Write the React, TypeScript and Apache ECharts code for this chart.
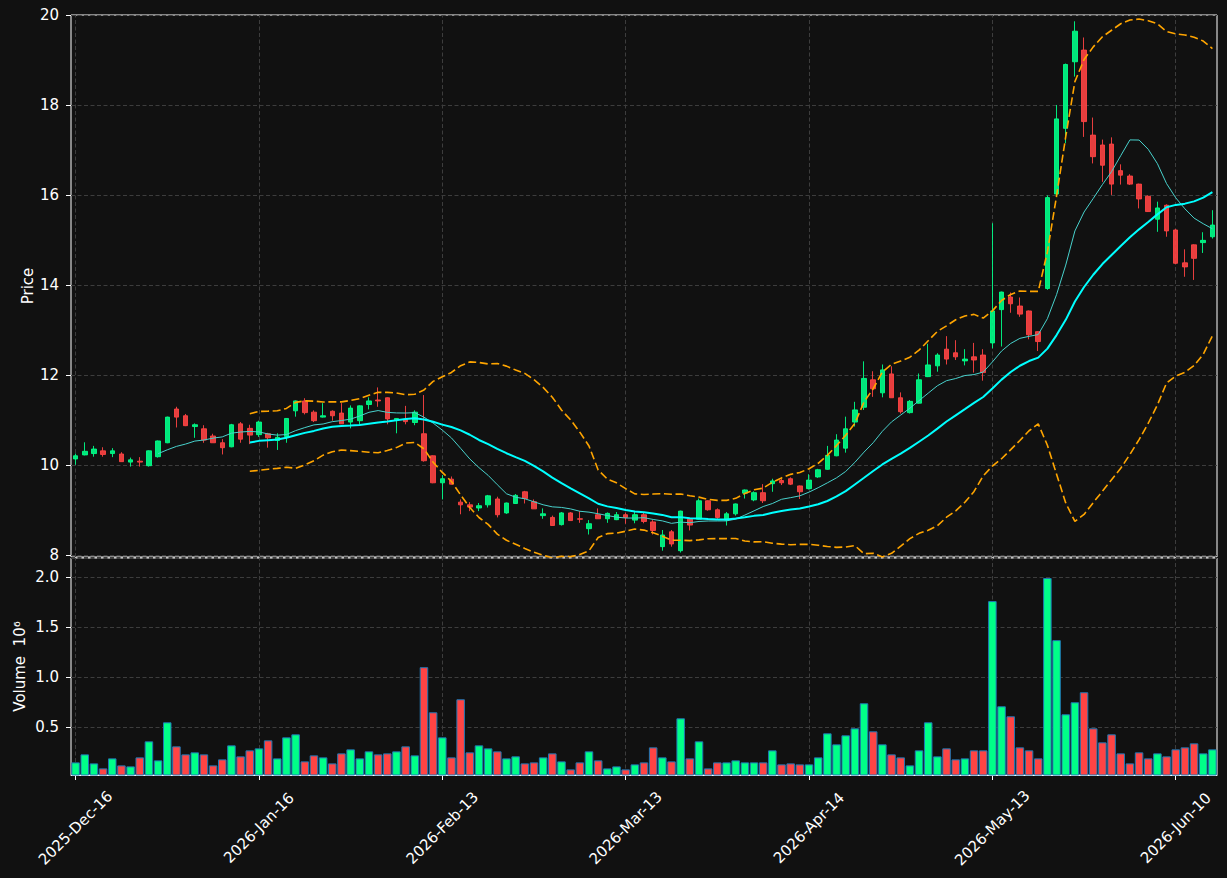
import React, { useEffect, useRef } from "react";
import * as echarts from "echarts";

const dates = [
  "2025-Dec-16", "2025-Dec-17", "2025-Dec-18", "2025-Dec-19", "2025-Dec-22", "2025-Dec-23", "2025-Dec-24", "2025-Dec-29", "2025-Dec-30", "2025-Dec-31",
  "2026-Jan-02", "2026-Jan-05", "2026-Jan-06", "2026-Jan-07", "2026-Jan-08", "2026-Jan-09", "2026-Jan-12", "2026-Jan-13", "2026-Jan-14", "2026-Jan-15",
  "2026-Jan-16", "2026-Jan-19", "2026-Jan-20", "2026-Jan-21", "2026-Jan-22", "2026-Jan-23", "2026-Jan-26", "2026-Jan-27", "2026-Jan-28", "2026-Jan-29",
  "2026-Jan-30", "2026-Feb-02", "2026-Feb-03", "2026-Feb-04", "2026-Feb-05", "2026-Feb-06", "2026-Feb-09", "2026-Feb-10", "2026-Feb-11", "2026-Feb-12",
  "2026-Feb-13", "2026-Feb-16", "2026-Feb-17", "2026-Feb-18", "2026-Feb-19", "2026-Feb-20", "2026-Feb-23", "2026-Feb-24", "2026-Feb-25", "2026-Feb-26",
  "2026-Feb-27", "2026-Mar-02", "2026-Mar-03", "2026-Mar-04", "2026-Mar-05", "2026-Mar-06", "2026-Mar-09", "2026-Mar-10", "2026-Mar-11", "2026-Mar-12",
  "2026-Mar-13", "2026-Mar-16", "2026-Mar-17", "2026-Mar-18", "2026-Mar-19", "2026-Mar-20", "2026-Mar-23", "2026-Mar-24", "2026-Mar-25", "2026-Mar-26",
  "2026-Mar-27", "2026-Mar-30", "2026-Mar-31", "2026-Apr-01", "2026-Apr-02", "2026-Apr-07", "2026-Apr-08", "2026-Apr-09", "2026-Apr-10", "2026-Apr-13",
  "2026-Apr-14", "2026-Apr-15", "2026-Apr-16", "2026-Apr-17", "2026-Apr-20", "2026-Apr-21", "2026-Apr-22", "2026-Apr-23", "2026-Apr-24", "2026-Apr-27",
  "2026-Apr-28", "2026-Apr-29", "2026-Apr-30", "2026-May-04", "2026-May-05", "2026-May-06", "2026-May-07", "2026-May-08", "2026-May-11", "2026-May-12",
  "2026-May-13", "2026-May-14", "2026-May-15", "2026-May-18", "2026-May-19", "2026-May-20", "2026-May-21", "2026-May-22", "2026-May-25", "2026-May-26",
  "2026-May-27", "2026-May-28", "2026-May-29", "2026-Jun-01", "2026-Jun-02", "2026-Jun-03", "2026-Jun-04", "2026-Jun-05", "2026-Jun-08", "2026-Jun-09",
  "2026-Jun-10", "2026-Jun-11", "2026-Jun-12", "2026-Jun-15", "2026-Jun-16",
];

const opens = [
  10.14, 10.23, 10.26, 10.32, 10.26, 10.25, 10.07, 10.09, 9.99, 10.19,
  10.50, 11.25, 11.10, 10.86, 10.81, 10.65, 10.50, 10.41, 10.92, 10.82,
  10.68, 10.70, 10.55, 10.64, 11.21, 11.43, 11.18, 11.07, 11.20, 11.16,
  10.96, 10.99, 11.35, 11.45, 11.50, 11.01, 11.02, 10.95, 10.70, 10.21,
  9.61, 9.69, 9.18, 9.12, 9.05, 9.12, 9.25, 8.94, 9.15, 9.41,
  9.19, 8.88, 8.84, 8.68, 8.94, 8.81, 8.59, 8.90, 8.81, 8.79,
  8.90, 8.78, 8.90, 8.74, 8.19, 8.52, 8.10, 8.80, 8.80, 9.21,
  9.01, 8.78, 8.92, 9.38, 9.23, 9.39, 9.59, 9.66, 9.70, 9.54,
  9.48, 9.74, 9.91, 10.21, 10.38, 10.96, 11.29, 11.90, 11.61, 12.03,
  11.50, 11.17, 11.38, 11.97, 12.21, 12.58, 12.50, 12.32, 12.41, 12.45,
  12.72, 13.46, 13.74, 13.54, 13.43, 12.97, 13.93, 16.03, 17.49, 18.97,
  19.23, 17.34, 17.12, 17.14, 16.55, 16.43, 16.25, 15.98, 15.47, 15.78,
  15.23, 14.50, 14.90, 14.95, 15.08,
];

const closes = [
  10.21, 10.31, 10.36, 10.24, 10.32, 10.08, 10.12, 10.07, 10.32, 10.54,
  11.07, 11.07, 10.88, 10.90, 10.56, 10.50, 10.39, 10.90, 10.58, 10.67,
  10.96, 10.61, 10.62, 11.04, 11.43, 11.17, 10.99, 11.10, 11.10, 10.92,
  11.27, 11.32, 11.43, 11.43, 11.03, 11.04, 10.97, 11.18, 10.10, 9.61,
  9.70, 9.58, 9.12, 9.07, 9.10, 9.32, 8.90, 9.16, 9.33, 9.26,
  9.03, 8.92, 8.66, 8.94, 8.77, 8.80, 8.70, 8.81, 8.93, 8.90,
  8.84, 8.90, 8.75, 8.55, 8.45, 8.25, 8.98, 8.67, 9.21, 9.01,
  8.84, 8.92, 9.14, 9.45, 9.39, 9.21, 9.65, 9.61, 9.58, 9.41,
  9.67, 9.90, 10.22, 10.56, 10.81, 11.23, 11.93, 11.70, 12.12, 11.50,
  11.19, 11.42, 11.90, 12.23, 12.45, 12.36, 12.41, 12.36, 12.34, 12.06,
  13.43, 13.85, 13.59, 13.36, 12.90, 12.75, 15.95, 17.70, 18.91, 19.65,
  17.64, 16.86, 16.67, 16.25, 16.45, 16.25, 15.92, 15.64, 15.72, 15.21,
  14.49, 14.41, 14.60, 15.00, 15.34,
];

const highs = [
  10.26, 10.51, 10.43, 10.40, 10.38, 10.29, 10.17, 10.18, 10.33, 10.55,
  11.08, 11.30, 11.14, 10.93, 10.89, 10.70, 10.58, 10.92, 10.96, 10.90,
  10.99, 10.72, 10.71, 11.05, 11.44, 11.49, 11.22, 11.38, 11.22, 11.38,
  11.33, 11.33, 11.51, 11.73, 11.51, 11.05, 11.32, 11.22, 11.56, 10.22,
  9.78, 9.75, 9.24, 9.18, 9.16, 9.34, 9.30, 9.17, 9.36, 9.43,
  9.24, 9.04, 8.88, 8.96, 8.96, 8.98, 8.78, 9.04, 8.95, 8.96,
  8.95, 8.96, 8.94, 8.78, 8.56, 8.56, 8.99, 8.81, 9.26, 9.22,
  9.04, 8.96, 9.15, 9.46, 9.42, 9.58, 9.70, 9.70, 9.73, 9.55,
  9.80, 9.92, 10.43, 10.69, 11.08, 11.41, 12.31, 12.09, 12.24, 12.20,
  11.62, 11.45, 12.04, 12.70, 12.49, 12.87, 12.78, 12.58, 12.72, 12.58,
  15.38, 13.86, 13.84, 13.73, 13.44, 12.98, 16.00, 18.01, 18.93, 19.87,
  19.51, 17.73, 17.24, 17.29, 16.69, 16.47, 16.26, 16.00, 15.86, 15.80,
  15.25, 14.80, 14.91, 15.18, 15.67,
];

const lows = [
  10.01, 10.22, 10.19, 10.19, 10.18, 10.08, 9.97, 9.97, 9.97, 10.17,
  10.49, 10.84, 10.87, 10.61, 10.50, 10.50, 10.24, 10.40, 10.50, 10.47,
  10.63, 10.39, 10.34, 10.50, 11.08, 11.13, 10.96, 11.06, 10.99, 10.92,
  10.82, 10.90, 11.24, 11.30, 10.91, 10.71, 10.91, 10.89, 10.08, 9.60,
  9.24, 9.57, 8.91, 8.98, 8.98, 9.06, 8.84, 8.92, 9.14, 9.15,
  9.03, 8.81, 8.66, 8.66, 8.77, 8.72, 8.46, 8.81, 8.72, 8.78,
  8.70, 8.71, 8.71, 8.46, 8.10, 8.19, 8.06, 8.55, 8.79, 8.99,
  8.81, 8.66, 8.88, 9.26, 9.20, 9.16, 9.41, 9.56, 9.56, 9.25,
  9.46, 9.72, 9.90, 10.20, 10.28, 10.86, 11.23, 11.52, 11.51, 11.50,
  11.15, 11.15, 11.37, 11.96, 12.08, 12.24, 12.34, 12.22, 12.06, 11.88,
  12.60, 12.64, 13.39, 13.30, 12.80, 12.54, 13.90, 15.97, 17.16, 18.64,
  17.30, 16.71, 16.30, 16.01, 16.24, 16.23, 15.71, 15.63, 15.19, 15.08,
  14.47, 14.19, 14.12, 14.72, 15.04,
];

// volume in millions of shares
const volumes = [
  0.15, 0.23, 0.14, 0.09, 0.19, 0.12, 0.11, 0.20, 0.36, 0.17,
  0.55, 0.31, 0.23, 0.25, 0.23, 0.12, 0.18, 0.32, 0.21, 0.27,
  0.29, 0.37, 0.19, 0.40, 0.43, 0.16, 0.22, 0.20, 0.14, 0.24,
  0.28, 0.19, 0.26, 0.23, 0.24, 0.26, 0.31, 0.22, 1.10, 0.65,
  0.40, 0.20, 0.78, 0.25, 0.32, 0.29, 0.26, 0.19, 0.21, 0.14,
  0.15, 0.20, 0.24, 0.16, 0.08, 0.15, 0.26, 0.17, 0.09, 0.11,
  0.08, 0.13, 0.15, 0.30, 0.20, 0.16, 0.59, 0.19, 0.36, 0.09,
  0.15, 0.15, 0.17, 0.15, 0.15, 0.15, 0.27, 0.13, 0.14, 0.13,
  0.13, 0.20, 0.44, 0.33, 0.42, 0.49, 0.74, 0.46, 0.33, 0.23,
  0.20, 0.12, 0.27, 0.55, 0.21, 0.29, 0.18, 0.19, 0.27, 0.27,
  1.76, 0.71, 0.61, 0.30, 0.27, 0.19, 1.99, 1.37, 0.63, 0.75,
  0.85, 0.49, 0.35, 0.43, 0.24, 0.14, 0.25, 0.19, 0.24, 0.21,
  0.28, 0.30, 0.34, 0.24, 0.28,
];

const tickIndices = [0, 20, 40, 60, 80, 100, 120];
const MA_SHORT = 10;
const MA_LONG = 20;
const BB_K = 2;

function rollingMean(arr: number[], n: number): (number | null)[] {
  return arr.map((_, i) => {
    if (i < n - 1) return null;
    let s = 0;
    for (let j = i - n + 1; j <= i; j++) s += arr[j];
    return s / n;
  });
}

function rollingStd(arr: number[], n: number): (number | null)[] {
  return arr.map((_, i) => {
    if (i < n - 1) return null;
    let s = 0;
    for (let j = i - n + 1; j <= i; j++) s += arr[j];
    const m = s / n;
    let v = 0;
    for (let j = i - n + 1; j <= i; j++) v += (arr[j] - m) * (arr[j] - m);
    return Math.sqrt(v / (n - 1));
  });
}

const UP = "#00ff88";
const DOWN = "#ff4444";
const GRID_COLOR = "#3d3d3d";
const FONT = "DejaVu Sans";

export default function App() {
  const ref = useRef<HTMLDivElement>(null);

  useEffect(() => {
    if (!ref.current) return;
    const chart = echarts.init(ref.current, undefined, { renderer: "svg" });

    const maShort = rollingMean(closes, MA_SHORT);
    const maLong = rollingMean(closes, MA_LONG);
    const sd = rollingStd(closes, MA_LONG);
    const bbUpper = maLong.map((m, i) => (m == null ? null : m + BB_K * (sd[i] as number)));
    const bbLower = maLong.map((m, i) => (m == null ? null : m - BB_K * (sd[i] as number)));

    const candleData = opens.map((o, i) => [o, closes[i], lows[i], highs[i]]);
    const volData = volumes.map((v, i) => ({
      value: v,
      itemStyle: { color: closes[i] >= opens[i] ? UP : DOWN },
    }));

    const vGrid = (xIdx: number, yIdx: number) => ({
      type: "line",
      xAxisIndex: xIdx,
      yAxisIndex: yIdx,
      data: [],
      z: 0,
      silent: true,
      markLine: {
        z: 0,
        silent: true,
        symbol: "none",
        label: { show: false },
        lineStyle: { color: GRID_COLOR, type: [4, 2.5], width: 1 },
        data: tickIndices.map((t) => ({ xAxis: t })),
      },
    });

    const isMult = (v: number, step: number) => Math.abs(v / step - Math.round(v / step)) < 1e-6;

    const option: any = {
      animation: false,
      backgroundColor: "#111111",
      textStyle: { fontFamily: FONT, color: "#ffffff" },
      grid: [
        { left: 71, top: 15, width: 1146, height: 542, show: true, borderColor: "#ffffff", borderWidth: 1, backgroundColor: "#111111" },
        { left: 71, top: 558, width: 1146, height: 217, show: true, borderColor: "#ffffff", borderWidth: 1, backgroundColor: "#111111" },
      ],
      xAxis: [
        {
          type: "category",
          gridIndex: 0,
          data: dates,
          boundaryGap: true,
          axisLine: { show: false },
          axisTick: { show: false },
          axisLabel: { show: false },
          splitLine: { show: false },
        },
        {
          type: "category",
          gridIndex: 1,
          data: dates,
          boundaryGap: true,
          axisLine: { show: true, lineStyle: { color: "#ffffff", width: 1 } },
          axisTick: {
            show: true,
            alignWithLabel: true,
            interval: (i: number) => i % 20 === 0,
            length: 5,
            lineStyle: { color: "#ffffff" },
          },
          axisLabel: {
            interval: (i: number) => i % 20 === 0,
            rotate: 45,
            align: "center",
            verticalAlign: "middle",
            margin: 53,
            color: "#ffffff",
            fontSize: 15,
            fontFamily: FONT,
          },
          splitLine: { show: false },
        },
      ],
      yAxis: [
        {
          type: "value",
          gridIndex: 0,
          min: 7.96,
          max: 20.01,
          minInterval: 2,
          maxInterval: 2,
          name: "Price",
          nameLocation: "middle",
          nameRotate: 90,
          nameGap: 36,
          nameMoveOverlap: false,
          nameTextStyle: { color: "#ffffff", fontSize: 15, fontFamily: FONT },
          axisLine: { show: false },
          axisTick: { show: true, length: 5, lineStyle: { color: "#ffffff" } },
          axisLabel: {
            color: "#ffffff",
            fontSize: 15,
            fontFamily: FONT,
            margin: 12,
            showMinLabel: false,
            showMaxLabel: true,
            formatter: (v: number) => (isMult(v, 2) ? String(Math.round(v)) : ""),
          },
          splitLine: { show: true, lineStyle: { color: GRID_COLOR, type: [4, 2.5], width: 1 } },
        },
        {
          type: "value",
          gridIndex: 1,
          min: 0.024,
          max: 2.19,
          minInterval: 0.5,
          maxInterval: 0.5,
          name: "Volume  10\u2076",
          nameLocation: "middle",
          nameRotate: 90,
          nameGap: 44,
          nameMoveOverlap: false,
          nameTextStyle: { color: "#ffffff", fontSize: 15, fontFamily: FONT },
          axisLine: { show: false },
          axisTick: { show: true, length: 5, lineStyle: { color: "#ffffff" } },
          axisLabel: {
            color: "#ffffff",
            fontSize: 15,
            fontFamily: FONT,
            margin: 12,
            showMinLabel: false,
            showMaxLabel: false,
            formatter: (v: number) => (isMult(v, 0.5) && v > 0.1 ? v.toFixed(1) : ""),
          },
          splitLine: { show: true, lineStyle: { color: GRID_COLOR, type: [4, 2.5], width: 1 } },
        },
      ],
      series: [
        vGrid(0, 0),
        vGrid(1, 1),
        {
          name: "OHLC",
          type: "candlestick",
          xAxisIndex: 0,
          yAxisIndex: 0,
          data: candleData,
          barWidth: 5,
          z: 3,
          itemStyle: {
            color: UP,
            color0: DOWN,
            borderColor: UP,
            borderColor0: DOWN,
            borderWidth: 1,
            opacity: 0.9,
          },
        },
        {
          name: "MA10",
          type: "line",
          xAxisIndex: 0,
          yAxisIndex: 0,
          data: maShort,
          showSymbol: false,
          z: 4,
          lineStyle: { color: "#48d1cc", width: 1 },
        },
        {
          name: "MA20",
          type: "line",
          xAxisIndex: 0,
          yAxisIndex: 0,
          data: maLong,
          showSymbol: false,
          z: 4,
          lineStyle: { color: "#00ffff", width: 2 },
        },
        {
          name: "BB Upper",
          type: "line",
          xAxisIndex: 0,
          yAxisIndex: 0,
          data: bbUpper,
          showSymbol: false,
          z: 4,
          lineStyle: { color: "#ffa500", width: 1.6, type: [8, 3.6] },
        },
        {
          name: "BB Lower",
          type: "line",
          xAxisIndex: 0,
          yAxisIndex: 0,
          data: bbLower,
          showSymbol: false,
          z: 4,
          lineStyle: { color: "#ffa500", width: 1.6, type: [8, 3.6] },
        },
        {
          name: "Volume",
          type: "bar",
          xAxisIndex: 1,
          yAxisIndex: 1,
          data: volData,
          barWidth: "93%",
          z: 6,
          itemStyle: { borderColor: "#1f77b4", borderWidth: 1 },
        },
      ],
    };

    chart.setOption(option);
    return () => chart.dispose();
  }, []);

  return (
    <div
      ref={ref}
      style={{ position: "fixed", left: 0, top: 0, width: "1227px", height: "878px", background: "#111111" }}
    />
  );
}
